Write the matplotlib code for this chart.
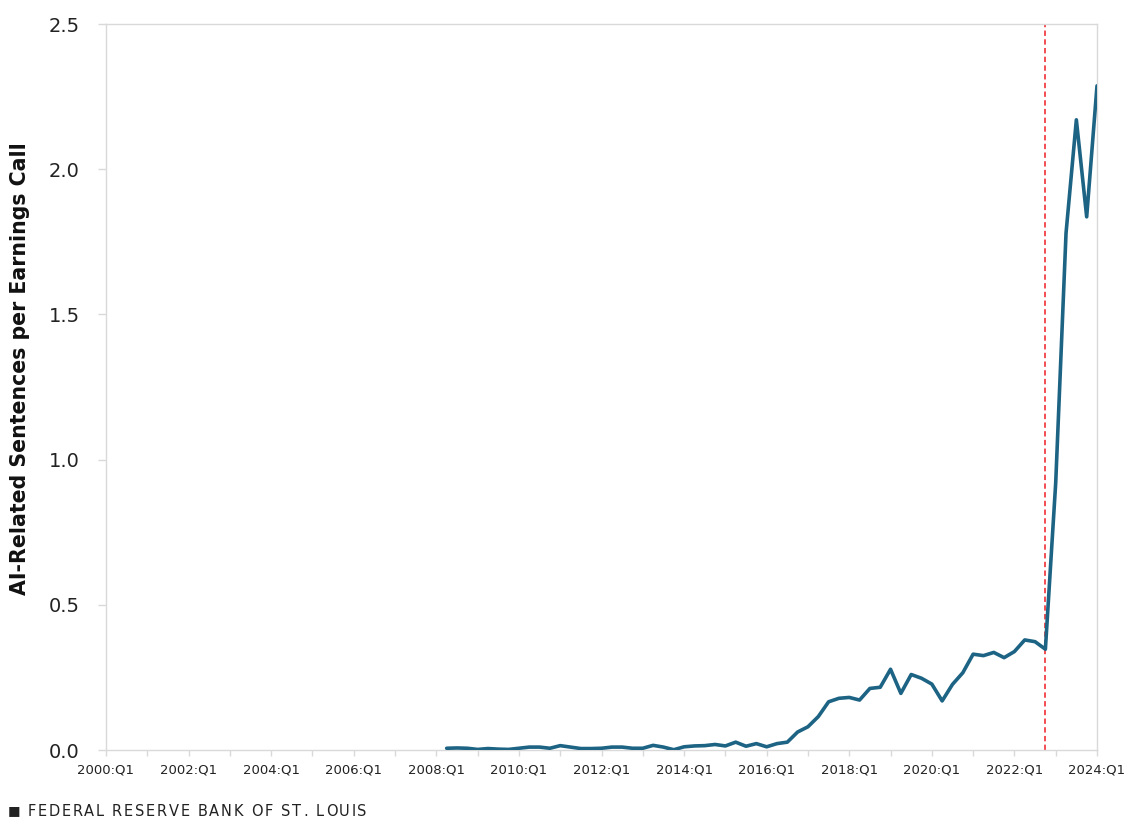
import matplotlib
matplotlib.use("Agg")
import matplotlib.pyplot as plt
from matplotlib.font_manager import FontProperties

# ---- data ----
first_quarter = "2008:Q2"
ai_sentences = [
    0.006, 0.007, 0.006,                      # 2008 Q2-Q4
    0.002, 0.005, 0.003, 0.002,               # 2009
    0.006, 0.010, 0.010, 0.006,               # 2010
    0.015, 0.010, 0.005, 0.005,               # 2011
    0.006, 0.010, 0.010, 0.006,               # 2012
    0.006, 0.016, 0.010, 0.001,               # 2013
    0.011, 0.014, 0.015, 0.019,               # 2014
    0.014, 0.027, 0.013, 0.022,               # 2015
    0.011, 0.022, 0.027, 0.062,               # 2016
    0.080, 0.115, 0.166, 0.178,               # 2017
    0.181, 0.172, 0.212, 0.216,               # 2018
    0.278, 0.195, 0.260, 0.247,               # 2019
    0.227, 0.169, 0.226, 0.266,               # 2020
    0.330, 0.325, 0.336, 0.318,               # 2021
    0.339, 0.379, 0.373, 0.347,               # 2022
    0.920, 1.780, 2.170, 1.836,               # 2023
    2.287,                                    # 2024 Q1
]
marker_quarter = "2022:Q4"
year_ticks = ["2000:Q1", "2001:Q1", "2002:Q1", "2003:Q1", "2004:Q1", "2005:Q1",
              "2006:Q1", "2007:Q1", "2008:Q1", "2009:Q1", "2010:Q1", "2011:Q1",
              "2012:Q1", "2013:Q1", "2014:Q1", "2015:Q1", "2016:Q1", "2017:Q1",
              "2018:Q1", "2019:Q1", "2020:Q1", "2021:Q1", "2022:Q1", "2023:Q1",
              "2024:Q1"]
y_ticks = [0.0, 0.5, 1.0, 1.5, 2.0, 2.5]
y_label = "AI-Related Sentences per Earnings Call"
source = "\u25A0 FEDERAL RESERVE BANK OF ST. LOUIS"


def qindex(lbl):
    y, q = lbl.split(":Q")
    return (int(y) - 2000) * 4 + int(q) - 1


start = qindex(first_quarter)
x_vals = [start + i for i in range(len(ai_sentences))]
tick_pos = [qindex(t) for t in year_ticks]
tick_lbls = [t if (int(t[:4]) % 2 == 0) else "" for t in year_ticks]

# ---- figure ----
W, H = 1135, 822
fig = plt.figure(figsize=(W / 100, H / 100), dpi=100)
ax = fig.add_axes([106 / W, 1 - 750 / H, (1097 - 106) / W, (750 - 24) / H])

grey = "#d9d9d9"
ax.plot(x_vals, ai_sentences, color="#1d6384", lw=2.6, solid_joinstyle="round",
        solid_capstyle="round", zorder=3)
ax.axvline(qindex(marker_quarter), color="#ee1c25", lw=1.1, dashes=(3.5, 2.2), zorder=2)

ax.set_xlim(tick_pos[0], tick_pos[-1])
ax.set_ylim(y_ticks[0], y_ticks[-1])
ax.set_xticks(tick_pos)
ax.set_xticklabels(tick_lbls, fontsize=9.5, color="#222222")
ax.set_yticks(y_ticks)
ax.set_yticklabels([f"{v:.1f}" for v in y_ticks], fontsize=14, color="#222222")

for s in ax.spines.values():
    s.set_color(grey)
    s.set_linewidth(1.0)
ax.tick_params(axis="x", direction="out", length=4.5, width=1.0, color=grey, pad=5)
ax.tick_params(axis="y", direction="out", length=6, width=1.0, color=grey, pad=13)

fig.text(20 / W, 1 - 369 / H, y_label, rotation=90, ha="center", va="center",
         fontsize=14.8, fontweight="bold", color="#111111")

# letter-spaced footer
renderer = fig.canvas.get_renderer()
prop = FontProperties(family="DejaVu Sans", size=10.5)
x_px = 8.0
spacing = 1.7
for ch in source:
    if ch == "\u25A0":
        fig.text(x_px / W, 1 - 811 / H, ch, ha="left", va="center",
                 fontproperties=FontProperties(family="DejaVu Sans", size=9.5),
                 color="#222222")
        x_px += 13
        continue
    w, h, d = renderer.get_text_width_height_descent(ch if ch != " " else "a", prop, ismath=False)
    if ch == " ":
        w = w * 0.55
    else:
        fig.text(x_px / W, 1 - 811 / H, ch, ha="left", va="center",
                 fontproperties=prop, color="#222222")
    x_px += w + spacing

fig.savefig("out.png", dpi=100)
